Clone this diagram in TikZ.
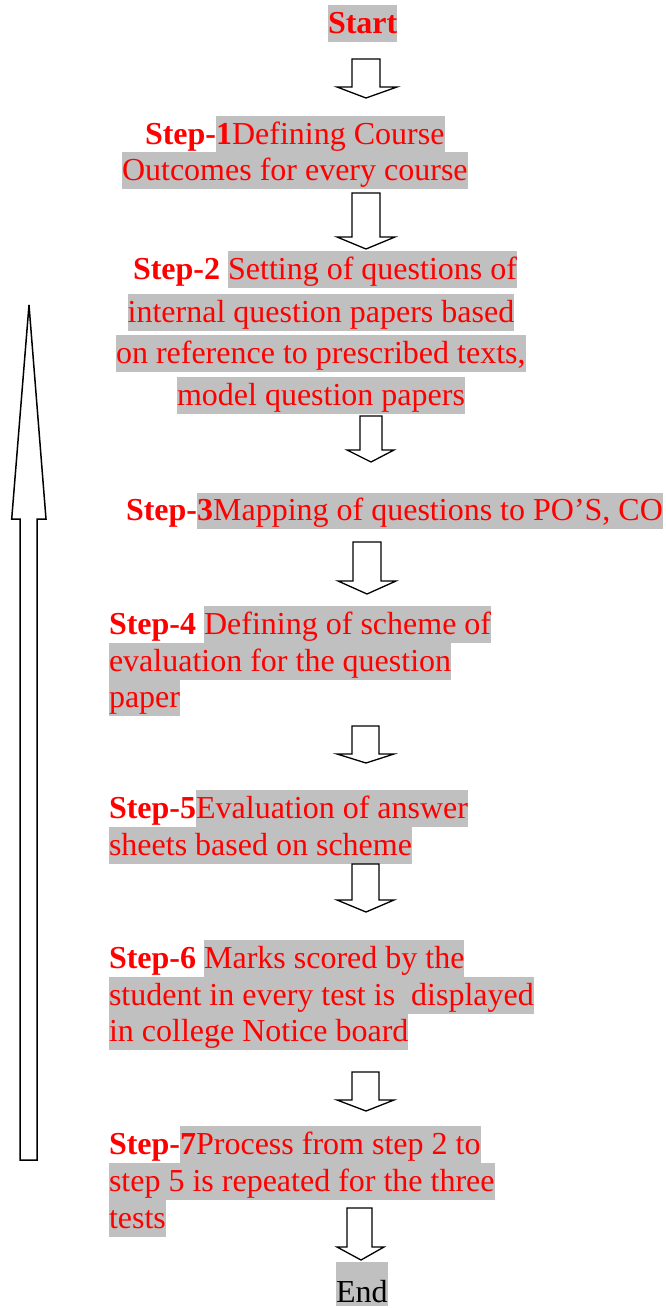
\documentclass[tikz,border=0pt]{standalone}
\usepackage{fontspec}
\setmainfont{Liberation Serif}
\definecolor{hlgray}{HTML}{C0C0C0}
\definecolor{txtred}{HTML}{FF0000}
\newcommand\blockarr[8]{%
  \draw[barrow] (#1,#3) -- (#2,#3) -- (#2,#4) -- (#6,#4) -- (#7,#8) -- (#5,#4) -- (#1,#4) -- cycle;}
\newcommand\bsp{\kern0.25em}
\tikzset{
  base/.style={inner sep=0pt, outer sep=0pt, text height=28.4pt, text depth=8.4pt, anchor=north west,
    font=\fontsize{32}{37}\selectfont},
  hl/.style={base, fill=hlgray, text=txtred},
  pre/.style={base, text=txtred, font=\fontsize{32}{37}\selectfont\bfseries},
  barrow/.style={draw=black, line width=1.3pt, fill=white, line join=miter},
}
\begin{document}
\begin{tikzpicture}[x=1pt,y=-1pt]
\useasboundingbox (0,0) rectangle (666,1308);
% Start
\node[hl, font=\fontsize{32}{37}\selectfont\bfseries] (start) at (328,5) {Start};
% Step 1
\node[pre] (s1p) at (145,116) {Step-};
\node[hl] (s1a) at (s1p.north east) {\textbf{1}Defining Course};
\node[hl] (s1b) at (122,152) {Outcomes for every course};
% Step 2
\node[pre] (s2p) at (133,251) {Step-2\bsp};
\node[hl] (s2a) at (s2p.north east) {Setting of questions of};
\node[hl] (s2b) at (127.7,294) {internal question papers based};
\node[hl] (s2c) at (116,335) {on reference to prescribed texts,};
\node[hl] (s2d) at (177,377) {model question papers};
% Step 3
\node[pre] (s3p) at (126,492.5) {Step-};
\node[hl] (s3a) at (s3p.north east) {\textbf{3}Mapping of questions to PO’S, CO};
% Step 4
\node[pre] (s4p) at (109,606) {Step-4\bsp};
\node[hl] (s4a) at (s4p.north east) {Defining of scheme of};
\node[hl] (s4b) at (109,642.7) {evaluation for the question};
\node[hl] (s4c) at (109,679) {paper};
% Step 5
\node[pre] (s5p) at (109,790) {Step-5};
\node[hl] (s5a) at (s5p.north east) {Evaluation of answer};
\node[hl] (s5b) at (109,826.7) {sheets based on scheme};
% Step 6
\node[pre] (s6p) at (109,940) {Step-6\bsp};
\node[hl] (s6a) at (s6p.north east) {Marks scored by the};
\node[hl] (s6b) at (109,976.7) {student in every test is\ \ displayed};
\node[hl] (s6c) at (109,1013.3) {in college Notice board};
% Step 7
\node[pre] (s7p) at (109,1126) {Step-};
\node[hl] (s7a) at (s7p.north east) {\textbf{7}Process from step 2 to};
\node[hl] (s7b) at (109,1163.3) {step 5 is repeated for the three};
\node[hl] (s7c) at (109,1200) {tests};
% End
\node[hl, text=black, text height=40pt, text depth=4pt] (end) at (336,1262) {End};
% block arrows
\blockarr{352}{380}{59}{87}{337}{397}{366}{98}
\blockarr{352}{380}{193}{237}{337}{395}{366}{249}
\blockarr{360}{382}{416}{450}{347}{394}{371}{462}
\blockarr{353}{381}{542}{581}{338}{396}{367}{594}
\blockarr{352}{379}{726}{754}{337}{394}{366}{763}
\blockarr{352}{379}{864}{900}{337}{394}{366}{912}
\blockarr{352}{379}{1072}{1100}{337}{394}{366}{1111}
\blockarr{347}{372}{1208}{1247}{337}{384}{361}{1260}
% big up arrow
\draw[barrow, line width=1.5pt] (20,1160) -- (20,519) -- (11.7,519) -- (29,305) -- (46,519) -- (37,519) -- (37,1160) -- cycle;
\end{tikzpicture}
\end{document}
